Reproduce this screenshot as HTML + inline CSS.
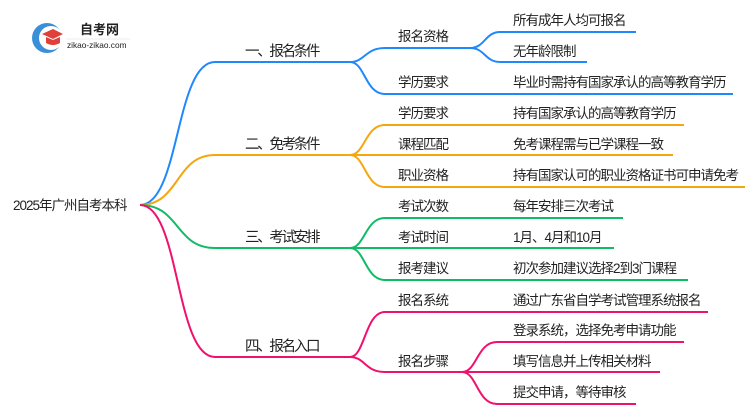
<!DOCTYPE html>
<html><head><meta charset="utf-8"><style>
html,body{margin:0;padding:0;background:#fff;width:750px;height:410px;overflow:hidden}
svg{display:block}
text{font-family:"Liberation Sans","Noto Sans CJK SC",sans-serif;fill:#222}
</style></head><body>
<svg width="750" height="410" viewBox="0 0 750 410" xmlns="http://www.w3.org/2000/svg">
<!-- logo -->
<circle cx="47" cy="38" r="15" fill="#3a8fd8"/>
<circle cx="51" cy="38" r="12" fill="#fff"/>
<polygon points="42,34 53,29 63,34 53,39" fill="#e0403a"/>
<path d="M46,37 v6 q7,4 14,0 v-6 l-7,3z" fill="#e0403a"/>
<text x="80" y="34" font-size="13" font-weight="bold" fill="#333">自考网</text>
<line x1="66" y1="39" x2="130" y2="39" stroke="#ddd" stroke-width="0.6"/>
<text x="67" y="48" font-size="8.3" fill="#777">zikao-zikao.com</text>
<g fill="none" stroke-width="2">
<g stroke="#1e88ff">
<path d="M140,205 C180,205 175,62 215,62 L350,62"/>
<path d="M350,62 C365,62 365,48 385,48 L470,48"/>
<path d="M470,48 C485,48 485,32 500,32 L636,32"/>
<path d="M470,48 C485,48 485,62 500,62 L587,62"/>
<path d="M350,62 C365,62 365,94 385,94 L733,94"/>
</g>
<g stroke="#f5a70f">
<path d="M140,205 C180,205 175,155 215,155 L350,155"/>
<path d="M350,155 C365,155 365,125 385,125 L684,125"/>
<path d="M350,155 L673,155"/>
<path d="M350,155 C365,155 365,187 385,187 L745,187"/>
</g>
<g stroke="#11bb66">
<path d="M140,205 C180,205 175,248 215,248 L350,248"/>
<path d="M350,248 C365,248 365,218 385,218 L623,218"/>
<path d="M350,248 L614,248"/>
<path d="M350,248 C365,248 365,280 385,280 L688,280"/>
</g>
<g stroke="#f0106e">
<path d="M140,205 C180,205 175,357 215,357 L350,357"/>
<path d="M350,357 C365,357 365,312 385,312 L708,312"/>
<path d="M350,357 C365,357 365,372 385,372 L462,372"/>
<path d="M462,372 C477,372 477,342 497,342 L684,342"/>
<path d="M462,372 L660,372"/>
<path d="M462,372 C477,372 477,404 497,404 L636,404"/>
</g>
</g>
<g font-size="13.5" letter-spacing="-1">
<text x="13" y="210">2025年广州自考本科</text>
<g font-size="14.5" letter-spacing="-2.3">
<text x="245" y="56">一、报名条件</text>
<text x="245" y="149">二、免考条件</text>
<text x="245" y="242">三、考试安排</text>
<text x="245" y="351">四、报名入口</text>
</g>
<text x="398" y="41">报名资格</text>
<text x="398" y="87">学历要求</text>
<text x="398" y="118">学历要求</text>
<text x="398" y="149">课程匹配</text>
<text x="398" y="180">职业资格</text>
<text x="398" y="211">考试次数</text>
<text x="398" y="242">考试时间</text>
<text x="398" y="273">报考建议</text>
<text x="398" y="305">报名系统</text>
<text x="398" y="366">报名步骤</text>
<text x="513" y="25">所有成年人均可报名</text>
<text x="513" y="56">无年龄限制</text>
<text x="513" y="87">毕业时需持有国家承认的高等教育学历</text>
<text x="513" y="118">持有国家承认的高等教育学历</text>
<text x="513" y="149">免考课程需与已学课程一致</text>
<text x="513" y="180">持有国家认可的职业资格证书可申请免考</text>
<text x="513" y="211">每年安排三次考试</text>
<text x="513" y="242">1月、4月和10月</text>
<text x="513" y="273">初次参加建议选择2到3门课程</text>
<text x="513" y="305">通过广东省自学考试管理系统报名</text>
<text x="513" y="335">登录系统，选择免考申请功能</text>
<text x="513" y="366">填写信息并上传相关材料</text>
<text x="513" y="397">提交申请，等待审核</text>
</g>
</svg>
</body></html>
